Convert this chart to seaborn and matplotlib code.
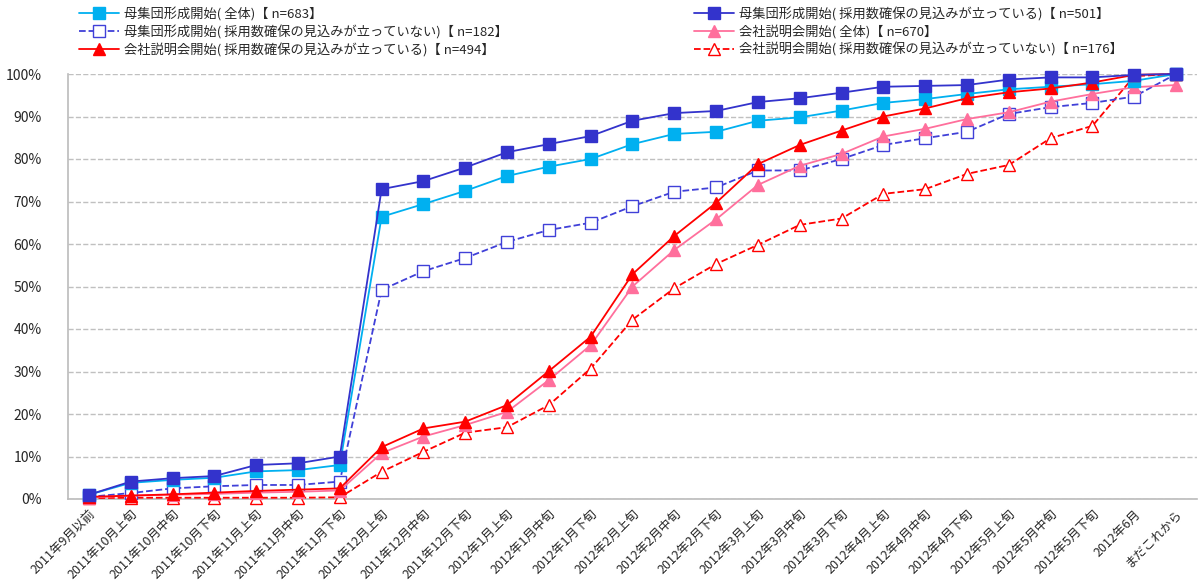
import numpy as np
import pandas as pd
import seaborn as sns
import matplotlib.pyplot as plt
from matplotlib.lines import Line2D

# periods on the x axis
periods = ["2011年9月以前", "2011年10月上旬", "2011年10月中旬", "2011年10月下旬",
           "2011年11月上旬", "2011年11月中旬", "2011年11月下旬", "2011年12月上旬",
           "2011年12月中旬", "2011年12月下旬", "2012年1月上旬", "2012年1月中旬",
           "2012年1月下旬", "2012年2月上旬", "2012年2月中旬", "2012年2月下旬",
           "2012年3月上旬", "2012年3月中旬", "2012年3月下旬", "2012年4月上旬",
           "2012年4月中旬", "2012年4月下旬", "2012年5月上旬", "2012年5月中旬",
           "2012年5月下旬", "2012年6月", "まだこれから"]

# cumulative share (%)
pop_all = [1.0, 3.8, 4.5, 5.0, 6.5, 6.8, 8.0, 66.4, 69.4, 72.5, 76.0, 78.2, 80.0, 83.5,
           85.9, 86.4, 89.0, 89.8, 91.4, 93.2, 94.1, 95.3, 96.4, 97.0, 97.6, 98.4, 100.0]
pop_yes = [1.0, 4.1, 4.9, 5.4, 8.0, 8.4, 10.0, 72.9, 74.8, 78.0, 81.6, 83.5, 85.4, 89.0,
           90.8, 91.3, 93.4, 94.3, 95.6, 97.0, 97.2, 97.4, 98.7, 99.2, 99.2, 99.8, 100.0]
pop_no = [0.5, 1.4, 2.5, 3.0, 3.3, 3.3, 4.1, 49.2, 53.6, 56.7, 60.5, 63.3, 65.0, 68.9,
          72.3, 73.3, 77.3, 77.3, 80.0, 83.3, 84.9, 86.4, 90.6, 92.2, 93.2, 94.7, 100.0]
sem_all = [0.3, 0.8, 1.0, 1.2, 1.5, 1.7, 2.0, 10.8, 14.7, 17.4, 20.5, 28.0, 36.2, 50.0,
           58.6, 65.8, 73.9, 78.4, 81.2, 85.3, 87.1, 89.4, 91.0, 93.5, 95.3, 96.9, 97.4]
sem_yes = [0.5, 0.8, 1.1, 1.5, 1.9, 2.2, 2.5, 12.2, 16.6, 18.2, 22.1, 30.1, 38.2, 52.9,
           61.9, 69.7, 78.8, 83.3, 86.7, 90.0, 91.9, 94.3, 95.7, 96.6, 98.0, 99.8, 100.0]
sem_no = [0.2, 0.3, 0.3, 0.3, 0.3, 0.3, 0.4, 6.4, 11.1, 15.6, 16.9, 22.1, 30.7, 42.2,
          49.6, 55.3, 59.8, 64.5, 66.0, 71.8, 72.9, 76.5, 78.6, 84.9, 87.8, 99.5, 100.0]

labels = ["母集団形成開始( 全体)【 n=683】",
          "母集団形成開始( 採用数確保の見込みが立っていない)【 n=182】",
          "会社説明会開始( 採用数確保の見込みが立っている)【 n=494】",
          "母集団形成開始( 採用数確保の見込みが立っている)【 n=501】",
          "会社説明会開始( 全体)【 n=670】",
          "会社説明会開始( 採用数確保の見込みが立っていない)【 n=176】"]
series = [pop_all, pop_no, sem_yes, pop_yes, sem_all, sem_no]
styles = [
    dict(color="#00B0F0", marker="s", ls="-", mfc="#00B0F0"),
    dict(color="#4040D8", marker="s", ls="--", mfc="white"),
    dict(color="#FF0000", marker="^", ls="-", mfc="#FF0000"),
    dict(color="#3333CC", marker="s", ls="-", mfc="#3333CC"),
    dict(color="#FF6F9C", marker="^", ls="-", mfc="#FF6F9C"),
    dict(color="#FF0000", marker="^", ls="--", mfc="white"),
]
draw_order = [5, 1, 4, 0, 2, 3]

sns.set_theme(style="white")
plt.rcParams["font.family"] = ["Noto Sans CJK JP", "DejaVu Sans"]

fig = plt.figure(figsize=(11.99, 5.83), dpi=100)
ax = fig.add_axes([68 / 1199, 84 / 583, 1129 / 1199, 425 / 583])

x = np.arange(len(periods))
for i in draw_order:
    st = styles[i]
    df = pd.DataFrame({"x": x, "y": series[i]})
    sns.lineplot(data=df, x="x", y="y", ax=ax, color=st["color"], linewidth=1.3,
                 linestyle=st["ls"], marker=st["marker"], markersize=9,
                 markerfacecolor=st["mfc"], markeredgecolor=st["color"],
                 markeredgewidth=1.0, clip_on=False, zorder=3)

ax.set_xlim(-0.5, len(periods) - 0.5)
ax.set_ylim(0, 100)
ax.set_xlabel("")
ax.set_ylabel("")
ax.set_yticks(range(0, 101, 10))
ax.set_yticklabels([f"{v}%" for v in range(0, 101, 10)], fontsize=10)
ax.set_xticks(x)
ax.set_xticklabels(periods, rotation=45, ha="right", rotation_mode="anchor", fontsize=9)
ax.tick_params(axis="y", length=0, pad=19)
ax.tick_params(axis="x", length=0, pad=6)
ax.set_xticks(np.arange(-0.5, len(periods), 1), minor=True)
ax.tick_params(axis="x", which="minor", direction="in", length=4, color="#BBBBBB")
ax.grid(axis="y", linestyle="--", color="#C0C0C0", linewidth=1.0)
for s in ["top", "right"]:
    ax.spines[s].set_visible(False)
for s in ["left", "bottom"]:
    ax.spines[s].set_color("#BBBBBB")
    ax.spines[s].set_linewidth(1.2)

def handle(st):
    return Line2D([], [], color=st["color"], linestyle=st["ls"], linewidth=1.3,
                  marker=st["marker"], markersize=8, markerfacecolor=st["mfc"],
                  markeredgecolor=st["color"])

legend_kw = dict(frameon=False, fontsize=9.5, handlelength=3.0, handletextpad=0.4,
                 labelspacing=0.3, borderpad=0, borderaxespad=0)
fig.legend([handle(styles[i]) for i in range(3)], labels[:3], loc="upper left",
           bbox_to_anchor=(79 / 1199, 1 - 7 / 583), **legend_kw)
fig.legend([handle(styles[i]) for i in range(3, 6)], labels[3:], loc="upper left",
           bbox_to_anchor=(694 / 1199, 1 - 7 / 583), **legend_kw)

fig.savefig("out.png", dpi=100)
